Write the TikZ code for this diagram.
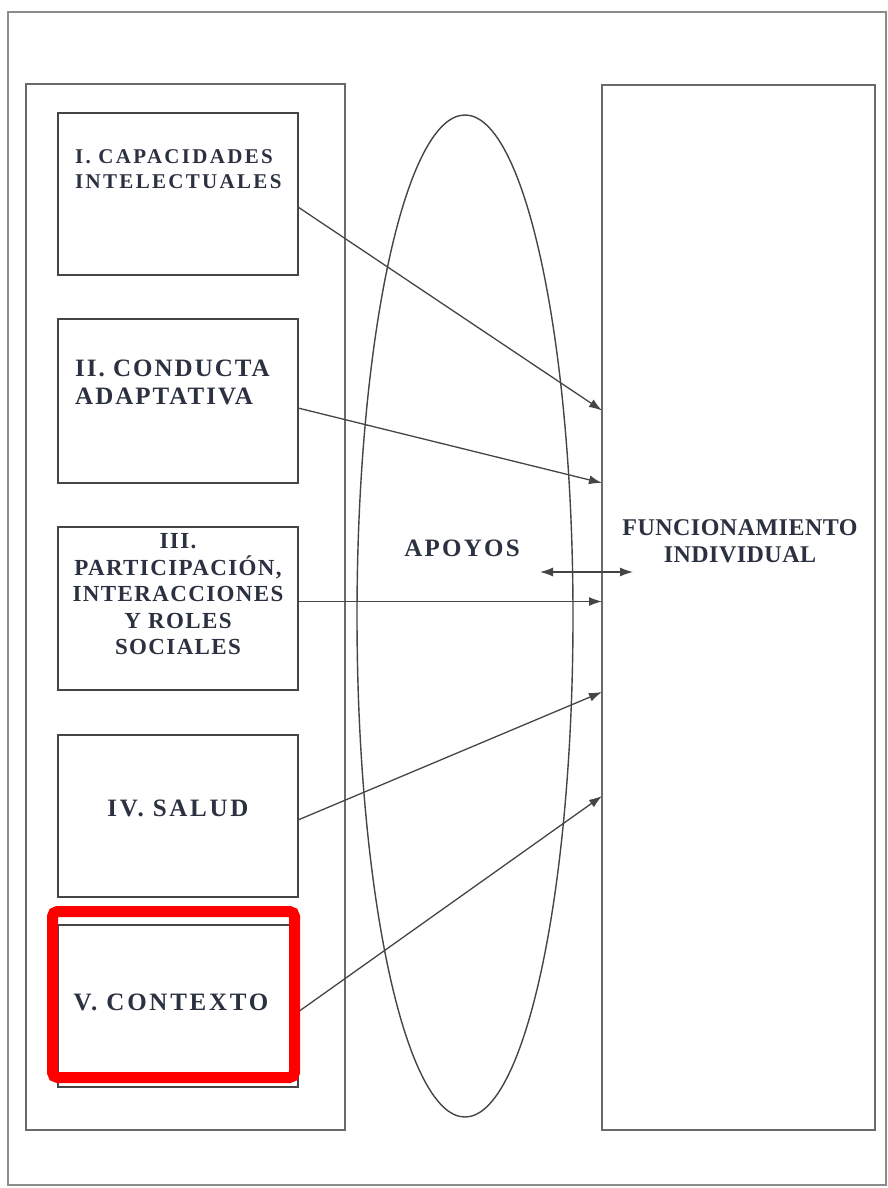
\documentclass[tikz,border=0pt]{standalone}
\usepackage{fontspec}
\setmainfont{Liberation Serif}
\usetikzlibrary{shapes.geometric,arrows.meta}
\definecolor{ink}{HTML}{2B3140}
\definecolor{edgec}{HTML}{454545}
\definecolor{framec}{HTML}{8C8C8C}
\newcommand{\lblfont}[3]{\bfseries\fontsize{#1}{#2}\selectfont\addfontfeature{LetterSpace=#3}}
\begin{document}
\begin{tikzpicture}[x=1pt,y=-1pt,
  outerframe/.style={draw=framec, line width=1.4pt, inner sep=0pt, outer sep=0pt},
  container/.style={draw=edgec!80, line width=1.4pt, inner sep=0pt, outer sep=0pt},
  dimbox/.style={draw=edgec, line width=1.4pt, minimum width=240pt, inner sep=0pt, outer sep=0pt},
  lbl/.style={text=ink, inner sep=0pt},
  tip/.tip={Latex[length=13pt,width=9pt]},
  conn/.style={draw=edgec, line width=1.3pt, -tip},
  hilite/.style={draw=red, line width=11pt, rounded corners=5pt, inner sep=0pt, outer sep=0pt}]
\useasboundingbox (0,0) rectangle (888,1188);
\fill[white] (0,0) rectangle (888,1188);
% frames
\node[outerframe, minimum width=878pt, minimum height=1173pt] (outer) at (447,598.5) {};
\node[container, minimum width=319pt, minimum height=1046pt] (left) at (185.5,607) {};
\node[container, minimum width=273pt, minimum height=1045pt] (F) at (738.5,607.5) {};
\node[draw=edgec, line width=1.4pt, ellipse, minimum width=216pt, minimum height=1002pt, inner sep=0pt, outer sep=0pt] (apoyos) at (465,616) {};
% dimension boxes
\node[dimbox, minimum height=162pt] (b1) at (178,194) {};
\node[dimbox, minimum height=164pt] (b2) at (178,401) {};
\node[dimbox, minimum height=163pt] (b3) at (178,608.5) {};
\node[dimbox, minimum height=162pt] (b4) at (178,816) {};
\node[dimbox, minimum height=162pt] (b5) at (178,1006) {};
% labels
\node[lbl, font=\lblfont{21}{25}{11}, anchor=west, align=left] (t1) at (75,169) {I. CAPACIDADES\\INTELECTUALES};
\node[lbl, font=\lblfont{25}{28}{8}, anchor=west, align=left] (t2) at (75,382) {II. CONDUCTA\\ADAPTATIVA};
\node[lbl, font=\lblfont{23}{26.5}{6}, align=center] (t3) at (178,594.5) {III.\\PARTICIPACIÓN,\\INTERACCIONES\\Y ROLES\\SOCIALES};
\node[lbl, font=\lblfont{25}{28}{11}] (t4) at (178,808) {IV. SALUD};
\node[lbl, font=\lblfont{25}{28}{11}] (t5) at (171,1002) {V. CONTEXTO};
\node[lbl, font=\lblfont{25}{28}{9}] (ta) at (462,548) {APOYOS};
\node[lbl, font=\lblfont{24}{27}{2}, align=center] (tf) at (740,541) {FUNCIONAMIENTO\\INDIVIDUAL};
% connectors
\draw[conn] ([yshift=-13pt]b1.east) -- ([yshift=197pt]F.west);
\draw[conn] ([yshift=-7pt]b2.east) -- ([yshift=124.5pt]F.west);
\draw[conn] ([yshift=7pt]b3.east) -- ([yshift=6pt]F.west);
\draw[conn] ([yshift=-4pt]b4.east) -- ([yshift=-84.5pt]F.west);
\draw[conn] ([yshift=-6pt]b5.east) -- ([yshift=-188.5pt]F.west);
\coordinate (dL) at (540,572);
\coordinate (dR) at (633,572);
\draw[conn, tip-tip] (dL) -- (dR);
% highlight
\node[hilite, minimum width=242pt, minimum height=166pt] (hl) at (173.5,994.5) {};
\end{tikzpicture}
\end{document}
